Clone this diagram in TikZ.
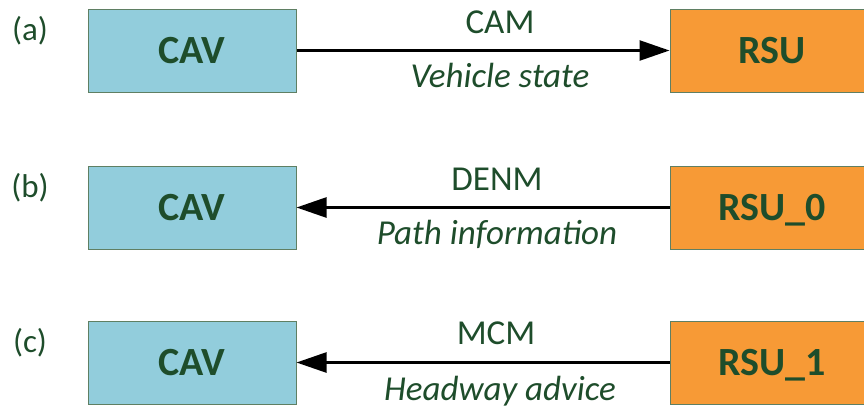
\documentclass[tikz,border=0pt]{standalone}
\usepackage{fontspec}
\setmainfont{Carlito}
\usetikzlibrary{arrows.meta}
\definecolor{txtgreen}{HTML}{1E4D2B}
\definecolor{cavblue}{HTML}{92CDDC}
\definecolor{rsuorange}{HTML}{F79A36}
\definecolor{boxline}{HTML}{5F7F63}
\tikzset{
  box/.style={draw=boxline, line width=1pt, minimum height=83pt, inner sep=0pt,
    text=txtgreen, font=\fontsize{40}{44}\selectfont\bfseries,
    text height=26pt, text depth=0pt},
  cav/.style={box, fill=cavblue, minimum width=208pt},
  rsu/.style={box, fill=rsuorange, minimum width=204pt},
  msg/.style={text=txtgreen, font=\fontsize{35}{40}\selectfont, anchor=base, inner sep=0pt},
  info/.style={msg, font=\fontsize{35}{40}\selectfont\itshape},
  tag/.style={text=txtgreen, font=\fontsize{33}{38}\selectfont, anchor=base, inner sep=0pt},
  link/.style={line width=2.5pt, -{Triangle[length=30pt,width=20pt]}}
}
\begin{document}
\begin{tikzpicture}[x=1pt,y=-1pt]
\useasboundingbox (0,0) rectangle (864,407);
% row a
\node[tag] (la) at (30,40) {(a)};
\node[cav] (cava) at (192,50.5) {CAV};
\node[rsu] (rsua) at (772,50.5) {RSU};
\draw[link] (cava.east) -- (rsua.west);
\node[msg] (ma) at (500,33) {CAM};
\node[info] (ia) at (500,87) {Vehicle state};
% row b
\node[tag] (lb) at (30,197) {(b)};
\node[cav] (cavb) at (192,207.5) {CAV};
\node[rsu] (rsub) at (772,207.5) {RSU\_0};
\draw[link] (rsub.west) -- (cavb.east);
\node[msg] (mb) at (497,190) {DENM};
\node[info] (ib) at (497,244.5) {Path information};
% row c
\node[tag] (lc) at (30,352) {(c)};
\node[cav] (cavc) at (192,362.5) {CAV};
\node[rsu] (rsuc) at (772,362.5) {RSU\_1};
\draw[link] (rsuc.west) -- (cavc.east);
\node[msg] (mc) at (496,344) {MCM};
\node[info] (ic) at (500,400) {Headway advice};
\end{tikzpicture}
\end{document}
